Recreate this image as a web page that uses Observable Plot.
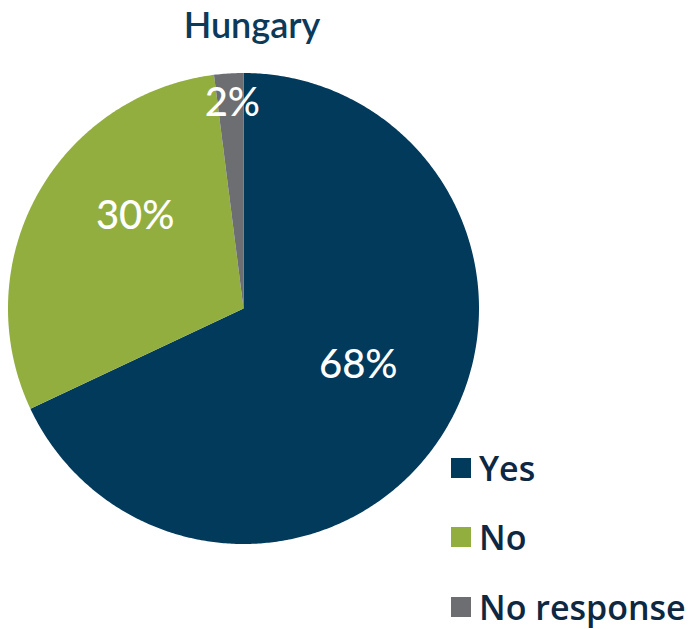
<!DOCTYPE html>
<html><head><meta charset="utf-8">
<script src="https://cdn.jsdelivr.net/npm/d3@7"></script>
<script src="https://cdn.jsdelivr.net/npm/@observablehq/plot@0.6"></script>
<style>
body{margin:0;background:#fff;}
#wrap{position:relative;width:696px;height:629px;overflow:hidden;}
#title{position:absolute;left:0;top:2px;width:504px;text-align:center;font-family:Lato,sans-serif;font-weight:600;font-size:36px;line-height:44px;color:#0B3A5A;}
#chart{position:absolute;left:0;top:50px;}
#legend{position:absolute;left:451px;top:433px;}
.row{display:flex;align-items:center;height:69.5px;}
.sw{width:20px;height:20px;margin-right:8px;}
.lab{font-family:"Open Sans",sans-serif;font-weight:600;font-size:34px;line-height:34px;color:#0E2841;white-space:nowrap;}
</style></head><body>
<div id="wrap"><div id="title"></div><div id="chart"></div><div id="legend"></div></div>
<script>
const title = "Hungary";
const categories = ["Yes", "No", "No response"];
const values = [68, 30, 2];
const labels = ["68%", "30%", "2%"];
const colors = ["#023A5C", "#92AE3F", "#6D6E71"];
// label placement (layout only): fraction of radius and angle nudge in degrees
const labelRadius = [0.544, 0.603, 0.875];
const labelNudge = [-6, 11.5, 0.5];

document.getElementById("title").textContent = title;

const total = d3.sum(values);
let acc = 0;
const slices = categories.map((c, i) => {
  const a0 = acc / total * 360;
  acc += values[i];
  const a1 = acc / total * 360;
  return {cat: c, a0, a1, label: labels[i], i};
});
const rad = d => d * Math.PI / 180;
const pts = [];
for (const s of slices) {
  pts.push({cat: s.cat, x: 0, y: 0});
  const n = Math.max(4, Math.ceil((s.a1 - s.a0) * 2));
  for (let k = 0; k <= n; k++) {
    const a = rad(s.a0 + (s.a1 - s.a0) * k / n);
    pts.push({cat: s.cat, x: Math.sin(a), y: Math.cos(a)});
  }
}
const labelData = slices.map(s => {
  const a = rad((s.a0 + s.a1) / 2 + labelNudge[s.i]);
  const r = labelRadius[s.i];
  return {x: r * Math.sin(a), y: r * Math.cos(a), text: s.label};
});

const cx = 243, cy = 258, R = 235.5;
const chart = Plot.plot({
  width: 696,
  height: 579,
  margin: 0,
  x: {domain: [-1, 1], range: [cx - R, cx + R], axis: null},
  y: {domain: [-1, 1], range: [cy + R, cy - R], axis: null},
  color: {domain: categories, range: colors},
  style: {background: "white"},
  marks: [
    Plot.line(pts, {x: "x", y: "y", z: "cat", fill: "cat", stroke: null, curve: "linear-closed"}),
    Plot.text(labelData, {x: "x", y: "y", text: "text", fill: "white", fontSize: 40, fontFamily: "Lato", fontWeight: 500})
  ]
});
document.getElementById("chart").appendChild(chart);

const legend = d3.select("#legend");
categories.forEach((c, i) => {
  const row = legend.append("div").attr("class", "row");
  row.append("div").attr("class", "sw").style("background", colors[i]);
  row.append("div").attr("class", "lab").text(c);
});
</script>
</body></html>
